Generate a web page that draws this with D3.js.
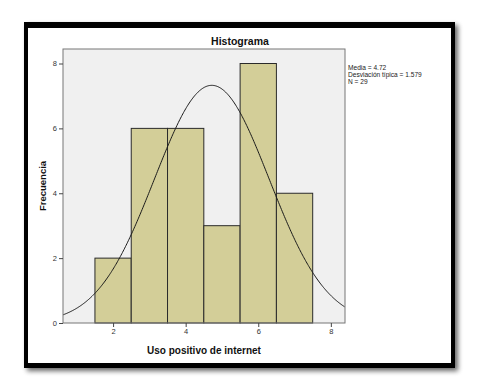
<!DOCTYPE html>
<html><head><meta charset="utf-8">
<script src="https://cdn.jsdelivr.net/npm/d3@7"></script>
<style>body{margin:0;background:#fff}svg{display:block}</style>
</head><body>
<script>
const binStarts = [1.5, 2.5, 3.5, 4.5, 5.5, 6.5];
const binEnds   = [2.5, 3.5, 4.5, 5.5, 6.5, 7.5];
const counts    = [2, 6, 6, 3, 8, 4];
const xTicks = [2, 4, 6, 8];
const yTicks = [0, 2, 4, 6, 8];
const mean = 4.72, sd = 1.579, N = 29;
const statLines = ["Media = 4.72", "Desviación típica = 1.579", "N = 29"];

const W = 480, H = 392;
const FONT = "Arial, 'Liberation Sans', sans-serif";
const svg = d3.select("body").append("svg").attr("width", W).attr("height", H);
const defs = svg.append("defs");
const f = defs.append("filter").attr("id","sh").attr("x","-10%").attr("y","-10%").attr("width","130%").attr("height","130%");
f.append("feGaussianBlur").attr("in","SourceAlpha").attr("stdDeviation",2.5);
f.append("feOffset").attr("dx",3).attr("dy",3).attr("result","b");
f.append("feComponentTransfer").append("feFuncA").attr("type","linear").attr("slope",0.6);
const m = f.append("feMerge"); m.append("feMergeNode"); m.append("feMergeNode").attr("in","SourceGraphic");

svg.append("rect").attr("x",24).attr("y",22).attr("width",431).attr("height",346).attr("fill","#000").attr("filter","url(#sh)");
svg.append("rect").attr("x",28).attr("y",28).attr("width",423).attr("height",335).attr("fill","#fff");

const pl = 63, pr = 345, pt = 49, pb = 323;
const x = d3.scaleLinear().domain([0.62, 8.39]).range([pl, pr]);
const y = d3.scaleLinear().domain([0, 8]).range([pb, 63.5]);

svg.append("rect").attr("x",pl).attr("y",pt).attr("width",pr-pl).attr("height",pb-pt).attr("fill","#f0f0f0");

svg.append("g").selectAll("rect").data(counts).join("rect")
  .attr("x",(d,i)=>x(binStarts[i])).attr("width",(d,i)=>x(binEnds[i])-x(binStarts[i]))
  .attr("y",d=>y(d)).attr("height",d=>y(0)-y(d))
  .attr("fill","#d3ce98").attr("stroke","#2a2a2a").attr("stroke-width",1);

const dens = v => N * 1 / (sd*Math.sqrt(2*Math.PI)) * Math.exp(-0.5*((v-mean)/sd)**2);
const xs = d3.range(0.62, 8.391, 0.02);
const clip = defs.append("clipPath").attr("id","pc");
clip.append("rect").attr("x",pl).attr("y",pt).attr("width",pr-pl).attr("height",pb-pt);
svg.append("path").datum(xs).attr("clip-path","url(#pc)")
  .attr("d", d3.line().x(v=>x(v)).y(v=>y(dens(v))))
  .attr("fill","none").attr("stroke","#1a1a1a").attr("stroke-width",1);

svg.append("rect").attr("x",pl).attr("y",pt).attr("width",pr-pl).attr("height",pb-pt)
  .attr("fill","none").attr("stroke","#777").attr("stroke-width",1);

const xa = svg.append("g").attr("transform",`translate(0,${pb})`)
  .call(d3.axisBottom(x).tickValues(xTicks).tickSize(4).tickPadding(2).tickFormat(d3.format("d")));
const ya = svg.append("g").attr("transform",`translate(${pl},0)`)
  .call(d3.axisLeft(y).tickValues(yTicks).tickSize(4).tickPadding(2).tickFormat(d3.format("d")));
[xa,ya].forEach(a=>{
  a.select(".domain").remove();
  a.selectAll("line").attr("stroke","#444");
  a.selectAll("text").attr("font-family",FONT).attr("font-size",7.5).attr("fill","#333");
});

svg.append("text").attr("x",240).attr("y",45).attr("text-anchor","middle")
  .attr("font-family",FONT).attr("font-weight","bold").attr("font-size",10.5).attr("fill","#111").text("Histograma");
svg.append("text").attr("x",(pl+pr)/2).attr("y",354).attr("text-anchor","middle")
  .attr("font-family",FONT).attr("font-weight","bold").attr("font-size",10).attr("fill","#111").text("Uso positivo de internet");
svg.append("text").attr("transform",`translate(46,${(pt+pb)/2}) rotate(-90)`).attr("text-anchor","middle")
  .attr("font-family",FONT).attr("font-weight","bold").attr("font-size",9.5).attr("fill","#111").text("Frecuencia");

svg.append("g").attr("transform","translate(348,0) scale(0.88,1)")
  .selectAll("text").data(statLines).join("text")
  .attr("x",0).attr("y",(d,i)=>70+i*7)
  .attr("font-family",FONT).attr("font-size",7.5).attr("fill","#222").text(d=>d);
</script>
</body></html>
